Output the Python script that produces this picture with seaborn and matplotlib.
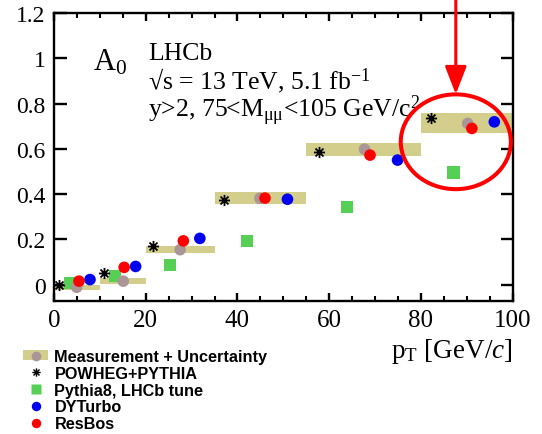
import matplotlib
matplotlib.use("Agg")
import matplotlib.pyplot as plt
import seaborn as sns
from matplotlib.path import Path
from matplotlib.patches import Ellipse, Patch
from matplotlib.lines import Line2D
from matplotlib.ticker import MultipleLocator, NullLocator, FuncFormatter
from matplotlib.font_manager import FontProperties

# A0 angular coefficient versus dimuon pT, in six pT bins
bin_lo = [0, 10, 20, 35, 55, 80]
bin_hi = [10, 20, 35, 55, 80, 100]

meas_x = [4.95, 15.1, 27.5, 44.9, 67.7, 90.2]
meas_y = [-0.012, 0.015, 0.154, 0.381, 0.598, 0.712]
meas_err = [0.012, 0.0125, 0.0165, 0.026, 0.0295, 0.044]

powheg_x = [1.1, 11.0, 21.5, 37.1, 57.7, 82.2]
powheg_y = [-0.003, 0.051, 0.171, 0.373, 0.586, 0.738]

pythia_x = [3.5, 13.3, 25.3, 42.0, 63.9, 87.1]
pythia_y = [0.008, 0.039, 0.087, 0.191, 0.343, 0.495]

dyturbo_x = [7.85, 17.8, 31.8, 50.9, 74.9, 96.0]
dyturbo_y = [0.022, 0.080, 0.204, 0.377, 0.550, 0.719]

resbos_x = [5.45, 15.3, 28.2, 46.0, 68.9, 91.1]
resbos_y = [0.015, 0.076, 0.193, 0.382, 0.572, 0.690]

series_labels = ["Measurement + Uncertainty", "POWHEG+PYTHIA",
                 "Pythia8, LHCb tune", "DYTurbo", "ResBos"]
x_ticks = [0, 20, 40, 60, 80, 100]
y_ticks = [0, 0.2, 0.4, 0.6, 0.8, 1.0, 1.2]

KHAKI = "#d4ce8c"
GRAY = "#aa9696"
GREEN = "#55d055"
BLUE = "#0000f0"
RED = "#ff0000"

sns.set_theme(style="ticks")
plt.rcParams.update({
    "font.family": ["Liberation Serif", "DejaVu Serif"],
    "mathtext.fontset": "custom",
    "mathtext.rm": "Liberation Serif",
    "mathtext.it": "Liberation Serif:italic",
    "mathtext.bf": "Liberation Serif:bold",
    "axes.linewidth": 1.7,
    "axes.edgecolor": "black",
    "xtick.color": "black",
    "ytick.color": "black",
    "text.color": "black",
    "axes.labelcolor": "black",
})

# eight-armed asterisk marker
star = Path(
    [(-1, 0), (1, 0), (0, -1), (0, 1),
     (-0.72, -0.72), (0.72, 0.72), (-0.72, 0.72), (0.72, -0.72)],
    [Path.MOVETO, Path.LINETO] * 4,
)

fig = plt.figure(figsize=(5.42, 4.35), dpi=100)
ax = fig.add_axes([0.0996, 0.3064, 0.8463, 0.6614])

# measurement bands
centers = [(a + b) / 2 for a, b in zip(bin_lo, bin_hi)]
widths = [b - a for a, b in zip(bin_lo, bin_hi)]
bottoms = [y - e for y, e in zip(meas_y, meas_err)]
heights = [2 * e for e in meas_err]
ax.bar(centers, heights, width=widths, bottom=bottoms, color=KHAKI,
       linewidth=0, zorder=1)

sns.scatterplot(x=pythia_x, y=pythia_y, marker="s", s=78, color=GREEN,
                edgecolor="none", ax=ax, zorder=2)
sns.scatterplot(x=meas_x, y=meas_y, marker="o", s=70, color=GRAY,
                edgecolor="none", ax=ax, zorder=3)
sns.scatterplot(x=powheg_x, y=powheg_y, marker=star, s=64, color="black",
                edgecolor="black", linewidth=1.3, ax=ax, zorder=4)
sns.scatterplot(x=dyturbo_x, y=dyturbo_y, marker="o", s=70, color=BLUE,
                edgecolor="none", ax=ax, zorder=5)
sns.scatterplot(x=resbos_x, y=resbos_y, marker="o", s=70, color=RED,
                edgecolor="none", ax=ax, zorder=6)

ax.set_xlim(0, 100)
ax.set_ylim(-0.0715, 1.2)
ax.set_xticks(x_ticks)
ax.set_yticks(y_ticks)
ax.xaxis.set_minor_locator(MultipleLocator(5))
ax.yaxis.set_minor_locator(NullLocator())
ax.yaxis.set_major_formatter(FuncFormatter(lambda v, p: f"{v:g}"))
ax.xaxis.set_major_formatter(FuncFormatter(lambda v, p: f"{v:g}"))
ax.tick_params(axis="x", which="major", direction="in", length=6, width=1.7,
               top=True, bottom=True, labelsize=18, pad=6)
ax.tick_params(axis="x", which="minor", direction="in", length=3.3, width=1.5,
               top=True, bottom=True)
ax.tick_params(axis="y", which="major", direction="in", length=9, width=1.7,
               left=True, right=True, labelsize=17, pad=6)

ax.set_xlabel(r"p$_{\mathrm{T}}$ [GeV/$c$]", fontsize=19.5, ha="right", va="baseline")
ax.xaxis.set_label_coords(1.0, -0.197)
ax.set_ylabel("")

# annotations
ax.text(0.085, 0.805, r"A$_{\mathrm{0}}$", transform=ax.transAxes, fontsize=22,
        va="baseline", ha="left")
ax.text(0.205, 0.839, "LHCb", transform=ax.transAxes, fontsize=18.5,
        va="baseline", ha="left")
ax.text(0.205, 0.738, "√s = 13 TeV, 5.1 fb$^{\\mathrm{-1}}$", transform=ax.transAxes,
        fontsize=18.5, va="baseline", ha="left")
ax.text(0.205, 0.64, "y>2, 75<M$_{\\mathrm{μμ}}$<105 GeV/c$^{\\mathrm{2}}$",
        transform=ax.transAxes, fontsize=18.5, va="baseline", ha="left")

# highlight of the highest pT bin
ax.add_patch(Ellipse((87.6, 0.631), width=24.0, height=0.419, fill=False,
                     edgecolor=RED, linewidth=2.9, clip_on=False, zorder=8))
ax.annotate("", xy=(87.6, 0.841), xytext=(87.6, 1.27), annotation_clip=False,
            arrowprops=dict(arrowstyle="-|>,head_length=0.85,head_width=0.33",
                            color=RED, lw=2.2, shrinkA=0, shrinkB=0,
                            mutation_scale=20), zorder=8)

# legend below the axes
handles = [
    (Patch(facecolor=KHAKI, edgecolor="none"),
     Line2D([], [], marker="o", ls="none", color=GRAY, ms=7, mec="none")),
    Line2D([], [], marker=star, ls="none", color="black", ms=6, mew=1.0),
    Line2D([], [], marker="s", ls="none", color=GREEN, ms=6.7, mec="none"),
    Line2D([], [], marker="o", ls="none", color=BLUE, ms=6.8, mec="none"),
    Line2D([], [], marker="o", ls="none", color=RED, ms=6.8, mec="none"),
]
fig.legend(handles, series_labels, loc="upper left",
           bbox_to_anchor=(23.3 / 542, 1 - 350 / 435),
           bbox_transform=fig.transFigure, frameon=False,
           prop=FontProperties(family="Liberation Sans", weight="bold", size=11.7),
           handlelength=1.55, handleheight=0.55, handletextpad=0.37,
           labelspacing=0.11, borderpad=0, borderaxespad=0)

fig.savefig("out.png", dpi=100)
